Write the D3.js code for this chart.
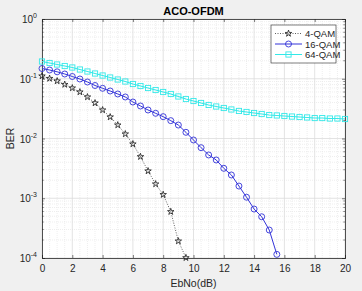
<!DOCTYPE html>
<html>
<head>
<meta charset="utf-8">
<script src="https://cdn.jsdelivr.net/npm/d3@7"></script>
<style>
  body { margin: 0; background: #f0f0f0; }
  svg { display: block; font-family: "Liberation Sans", Arial, sans-serif; }
</style>
</head>
<body>
<script>
var w = 362;
var h = 291;

// EbNo values (dB) and BER per modulation
var ebno4 = [0, 0.5, 1, 1.5, 2, 2.5, 3, 3.5, 4, 4.5, 5, 5.5, 6, 6.5, 7, 7.5, 8, 8.5, 9, 9.5];
var ber4 = [0.1112, 0.1010, 0.0917, 0.0801, 0.0700, 0.0600, 0.0495, 0.0393, 0.0300, 0.0229,
            0.0168, 0.0119, 0.00809, 0.00496, 0.00286, 0.00173, 0.00115, 0.000596, 0.000192, 0.000101];

var ebno16 = [0, 0.5, 1, 1.5, 2, 2.5, 3, 3.5, 4, 4.5, 5, 5.5, 6, 6.5, 7, 7.5, 8, 8.5, 9, 9.5,
              10, 10.5, 11, 11.5, 12, 12.5, 13, 13.5, 14, 14.5, 15, 15.5];
var ber16 = [0.1484, 0.1401, 0.1307, 0.1201, 0.1091, 0.0990, 0.0882, 0.0771, 0.0692, 0.0624,
             0.0556, 0.0495, 0.0408, 0.0350, 0.0300, 0.0264, 0.0232, 0.0199, 0.0168, 0.0127,
             0.00944, 0.00702, 0.0053, 0.00437, 0.00317, 0.00245, 0.0016, 0.00104, 0.00066, 0.00049,
             0.000294, 0.000115];

var ebno64 = [0, 0.5, 1, 1.5, 2, 2.5, 3, 3.5, 4, 4.5, 5, 5.5, 6, 6.5, 7, 7.5, 8, 8.5, 9, 9.5,
              10, 10.5, 11, 11.5, 12, 12.5, 13, 13.5, 14, 14.5, 15, 15.5, 16, 16.5, 17, 17.5, 18, 18.5,
              19, 19.5, 20];
var ber64 = [0.1944, 0.1835, 0.1732, 0.1634, 0.1543, 0.1428, 0.1322, 0.1224, 0.1133, 0.1049,
             0.0971, 0.0899, 0.0817, 0.0756, 0.0700, 0.0648, 0.0600, 0.0556, 0.0505, 0.0458,
             0.0424, 0.0393, 0.0364, 0.0343, 0.0324, 0.0306, 0.0289, 0.0278, 0.0267, 0.0257,
             0.0247, 0.0243, 0.0238, 0.0233, 0.0229, 0.0225, 0.0220, 0.0220, 0.0216, 0.0216, 0.0212];

var names = ["4-QAM", "16-QAM", "64-QAM"];
var xTicks = [0, 2, 4, 6, 8, 10, 12, 14, 16, 18, 20];
var yExps = [0, -1, -2, -3, -4];

var pLeft = 42, pRight = 345, pTop = 19, pBottom = 258;
var axisColor = "#262626";

var x = d3.scaleLinear().domain([0, 20]).range([pLeft, pRight]);
var y = d3.scaleLog().domain([1e-4, 1]).range([pBottom, pTop]);

var svg = d3.select("body")
    .append("svg")
    .attr("width", w)
    .attr("height", h);

svg.append("rect")
    .attr("x", pLeft).attr("y", pTop)
    .attr("width", pRight - pLeft).attr("height", pBottom - pTop)
    .attr("fill", "#ffffff");

// minor grid
var xMinor = d3.range(0, 20.01, 0.5).filter(function(d) { return d % 2 != 0; });
var yMinor = [];
for (var e = -4; e < 0; e++) {
  for (var m = 2; m < 10; m++) { yMinor.push(m * Math.pow(10, e)); }
}

var grid = svg.append("g");
grid.selectAll(".xm")
    .data(xMinor).enter().append("line")
    .attr("x1", function(d) { return x(d); }).attr("x2", function(d) { return x(d); })
    .attr("y1", pTop).attr("y2", pBottom)
    .attr("stroke", "#e2e2e2").attr("stroke-width", 0.6)
    .attr("stroke-dasharray", "1,1");
grid.selectAll(".ym")
    .data(yMinor).enter().append("line")
    .attr("x1", pLeft).attr("x2", pRight)
    .attr("y1", function(d) { return y(d); }).attr("y2", function(d) { return y(d); })
    .attr("stroke", "#e2e2e2").attr("stroke-width", 0.6)
    .attr("stroke-dasharray", "1,1");
grid.selectAll(".xg")
    .data(xTicks).enter().append("line")
    .attr("x1", function(d) { return x(d); }).attr("x2", function(d) { return x(d); })
    .attr("y1", pTop).attr("y2", pBottom)
    .attr("stroke", "#dcdcdc").attr("stroke-width", 0.8);
grid.selectAll(".yg")
    .data(yExps).enter().append("line")
    .attr("x1", pLeft).attr("x2", pRight)
    .attr("y1", function(d) { return y(Math.pow(10, d)); }).attr("y2", function(d) { return y(Math.pow(10, d)); })
    .attr("stroke", "#dcdcdc").attr("stroke-width", 0.8);

// axes with inward ticks on all four sides
var yTickVals = yExps.map(function(d) { return Math.pow(10, d); });
var xAxis = d3.axisBottom(x).tickValues(xTicks).tickSize(-3).tickFormat(d3.format("d"));
var xAxisTop = d3.axisTop(x).tickValues(xTicks).tickSize(-3).tickFormat("");
var yAxis = d3.axisLeft(y).tickValues(yTickVals).tickSize(-3).tickFormat("");
var yAxisR = d3.axisRight(y).tickValues(yTickVals).tickSize(-3).tickFormat("");

svg.append("g").attr("class", "x axis")
    .attr("transform", "translate(0," + pBottom + ")")
    .call(xAxis);
svg.append("g").attr("transform", "translate(0," + pTop + ")").call(xAxisTop);
svg.append("g").attr("class", "y axis")
    .attr("transform", "translate(" + pLeft + ",0)")
    .call(yAxis);
svg.append("g").attr("transform", "translate(" + pRight + ",0)").call(yAxisR);

svg.selectAll(".domain").attr("stroke", axisColor).attr("stroke-width", 0.8);
svg.selectAll(".tick line").attr("stroke", axisColor).attr("stroke-width", 0.6);
svg.selectAll(".x.axis text")
    .attr("fill", axisColor).attr("font-size", 10).attr("dy", 0).attr("y", 14);

// minor ticks on log axis
svg.append("g").selectAll("line")
    .data(yMinor).enter().append("line")
    .attr("x1", pLeft).attr("x2", pLeft + 1.8)
    .attr("y1", function(d) { return y(d); }).attr("y2", function(d) { return y(d); })
    .attr("stroke", axisColor).attr("stroke-width", 0.5);
svg.append("g").selectAll("line")
    .data(yMinor).enter().append("line")
    .attr("x1", pRight).attr("x2", pRight - 1.8)
    .attr("y1", function(d) { return y(d); }).attr("y2", function(d) { return y(d); })
    .attr("stroke", axisColor).attr("stroke-width", 0.5);

// y tick labels as 10^n
var yl = svg.append("g").selectAll("text")
    .data(yExps).enter().append("text")
    .attr("x", 37)
    .attr("y", function(d) { return y(Math.pow(10, d)) + 4; })
    .attr("text-anchor", "end")
    .attr("fill", axisColor)
    .attr("font-size", 10);
yl.append("tspan").text("10");
yl.append("tspan").attr("dy", -5).attr("font-size", 7).text(function(d) { return d; });

// lines
var line = d3.line()
    .x(function(d) { return x(d[0]); })
    .y(function(d) { return y(d[1]); });

var s4 = d3.zip(ebno4, ber4);
var s16 = d3.zip(ebno16, ber16);
var s64 = d3.zip(ebno64, ber64);

var c4 = "#1a1a1a", c16 = "#3333d8", c64 = "#33e8e8";

var star = d3.symbol().type(d3.symbolStar).size(13);

svg.append("path").datum(s64).attr("d", line)
    .attr("fill", "none").attr("stroke", c64).attr("stroke-width", 1.1);
svg.append("g").selectAll("rect")
    .data(s64).enter().append("rect")
    .attr("x", function(d) { return x(d[0]) - 2.6; })
    .attr("y", function(d) { return y(d[1]) - 2.6; })
    .attr("width", 5.2).attr("height", 5.2)
    .attr("fill", "none").attr("stroke", c64).attr("stroke-width", 0.9);

svg.append("path").datum(s16).attr("d", line)
    .attr("fill", "none").attr("stroke", c16).attr("stroke-width", 1);
svg.append("g").selectAll("circle")
    .data(s16).enter().append("circle")
    .attr("cx", function(d) { return x(d[0]); })
    .attr("cy", function(d) { return y(d[1]); })
    .attr("r", 3)
    .attr("fill", "none").attr("stroke", c16).attr("stroke-width", 0.9);

svg.append("path").datum(s4).attr("d", line)
    .attr("fill", "none").attr("stroke", c4).attr("stroke-width", 0.7)
    .attr("stroke-dasharray", "1,1.5");
svg.append("g").selectAll("path")
    .data(s4).enter().append("path")
    .attr("d", star)
    .attr("transform", function(d) { return "translate(" + x(d[0]) + "," + y(d[1]) + ")"; })
    .attr("fill", "none").attr("stroke", c4).attr("stroke-width", 0.8);

// legend
var lg = svg.append("g");
lg.append("rect")
    .attr("x", 271).attr("y", 25).attr("width", 65).attr("height", 38)
    .attr("fill", "#ffffff").attr("stroke", axisColor).attr("stroke-width", 0.6);

var ly = [33.5, 44, 54.5];
var lcol = [c4, c16, c64];
lg.selectAll(".ll")
    .data(names).enter().append("line")
    .attr("x1", 275).attr("x2", 302)
    .attr("y1", function(d, i) { return ly[i]; }).attr("y2", function(d, i) { return ly[i]; })
    .attr("stroke", function(d, i) { return lcol[i]; })
    .attr("stroke-width", function(d, i) { return i == 0 ? 0.7 : 1; })
    .attr("stroke-dasharray", function(d, i) { return i == 0 ? "1,1.5" : null; });
lg.append("path").attr("d", star)
    .attr("transform", "translate(288.5," + ly[0] + ")")
    .attr("fill", "none").attr("stroke", c4).attr("stroke-width", 0.8);
lg.append("circle").attr("cx", 288.5).attr("cy", ly[1]).attr("r", 3)
    .attr("fill", "none").attr("stroke", c16).attr("stroke-width", 0.9);
lg.append("rect").attr("x", 285.9).attr("y", ly[2] - 2.6).attr("width", 5.2).attr("height", 5.2)
    .attr("fill", "none").attr("stroke", c64).attr("stroke-width", 0.9);
lg.selectAll("text")
    .data(names).enter().append("text")
    .attr("x", 305)
    .attr("y", function(d, i) { return ly[i] + 3.5; })
    .attr("font-size", 9.5)
    .attr("fill", axisColor)
    .text(function(d) { return d; });

// titles
svg.append("text")
    .attr("x", (pLeft + pRight) / 2).attr("y", 15)
    .attr("text-anchor", "middle")
    .attr("font-size", 11).attr("font-weight", "bold")
    .attr("fill", "#000")
    .text("ACO-OFDM");

svg.append("text")
    .attr("x", (pLeft + pRight) / 2).attr("y", 287)
    .attr("text-anchor", "middle")
    .attr("font-size", 10.5)
    .attr("fill", axisColor)
    .text("EbNo(dB)");

svg.append("text")
    .attr("transform", "translate(14," + ((pTop + pBottom) / 2) + ") rotate(-90)")
    .attr("text-anchor", "middle")
    .attr("font-size", 10.5)
    .attr("fill", axisColor)
    .text("BER");
</script>
</body>
</html>
